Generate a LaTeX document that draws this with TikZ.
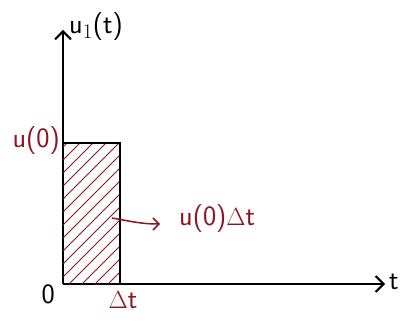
\documentclass[tikz,border=0pt]{standalone}
\usepackage{fontspec}
\usetikzlibrary{arrows.meta,positioning}
\definecolor{pulsered}{RGB}{140,20,35}

\begin{document}
\begin{tikzpicture}[
    x=1pt, y=-1pt,
    axis/.style={line width=2.4pt, -{Straight Barb[length=8pt,width=16pt,line width=2pt]}},
    lbl/.style={font=\fontsize{28}{32}\selectfont\sffamily, inner sep=1pt},
    >={Straight Barb[length=6pt,width=12pt,line width=1.5pt]}
]
\useasboundingbox (0,0) rectangle (409,323);
% axes
\coordinate (O) at (63,284);
\coordinate (ytop) at (63,30);
\coordinate (xend) at (385,284);
\draw[axis] (O) -- (ytop);
\draw[axis] (O) -- (xend);
% hatched pulse
\begin{scope}
  \clip (63,143) rectangle (120,284);
  \foreach \s in {0,13,...,210}
    \draw[pulsered, line width=1pt] (50+\s-150,284) -- (50+\s,134);
\end{scope}
\draw[line width=2.4pt] (63,143) -- (120,143) -- (120,284);
% labels
\node[lbl, text=pulsered, anchor=east] (u0) at (61,141) {u(0)};
\node[lbl, anchor=north east] (zero) at (56,283) {0};
\node[lbl, text=pulsered, anchor=north] (dt) at (123,290) {$\Delta$t};
\node[lbl, anchor=west] (t) at (388,282) {t};
\node[lbl, anchor=south west] (u1) at (68,42) {u$_1$(t)};
\node[lbl, text=pulsered, anchor=west] (area) at (178,219) {u(0)$\Delta$t};
\coordinate (hatch) at (112,218);
\draw[pulsered, line width=1.5pt, ->] (hatch) to[out=-10,in=180] (160,224);
\end{tikzpicture}
\end{document}
